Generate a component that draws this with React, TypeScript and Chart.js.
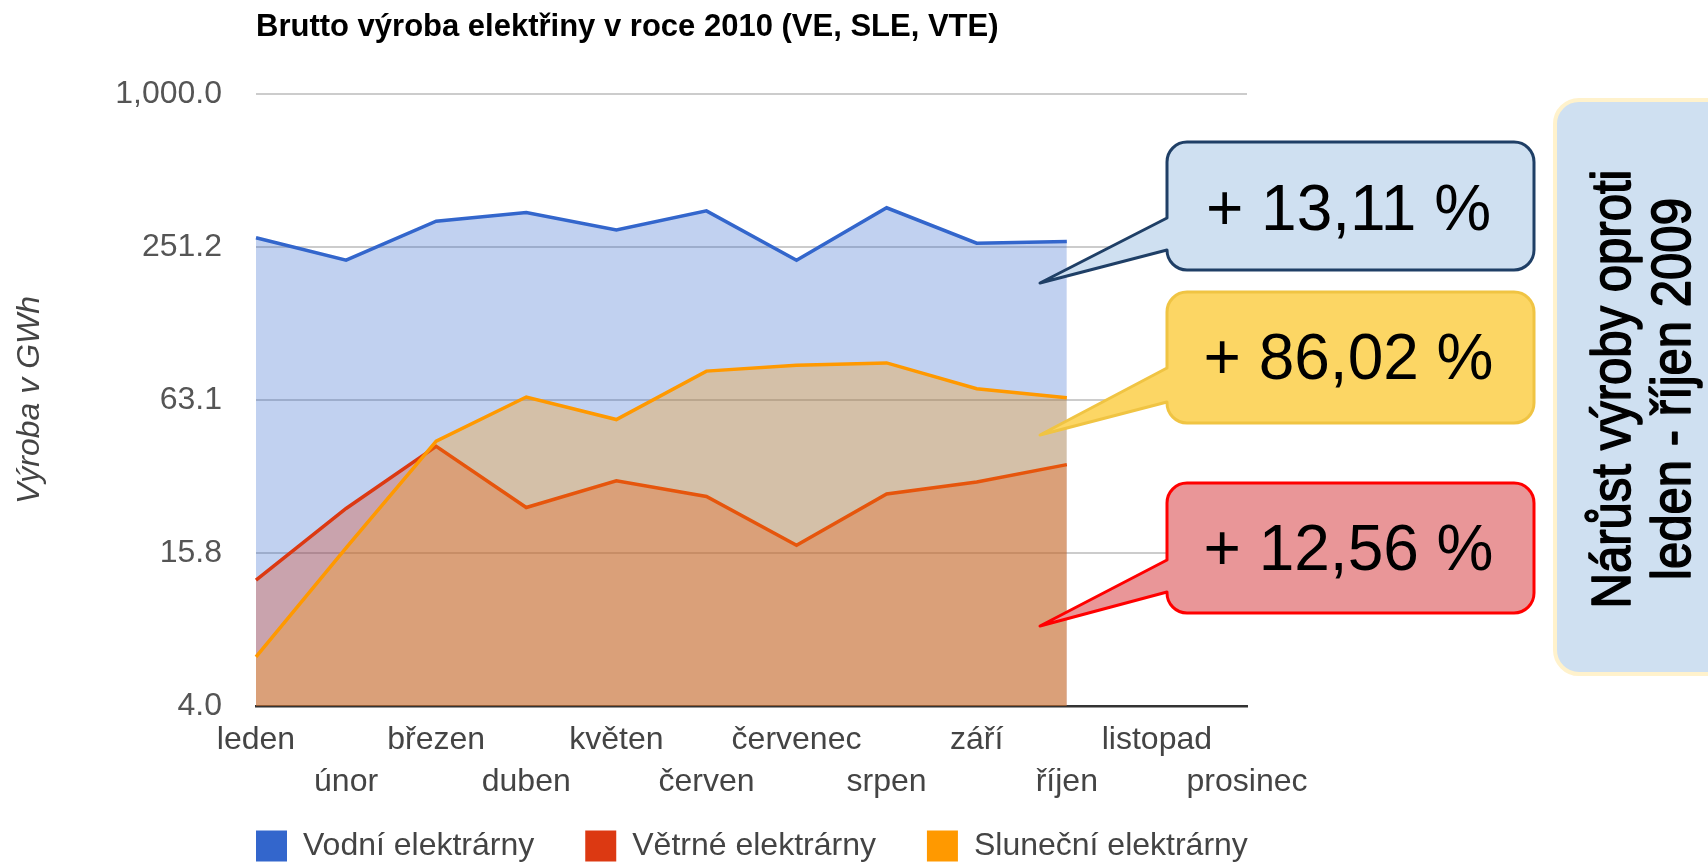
import React, { useEffect, useRef } from "react";
import { Chart, registerables } from "chart.js";

Chart.register(...registerables);

// ---------- data ----------
const months = ["leden", "únor", "březen", "duben", "květen", "červen", "červenec", "srpen", "září", "říjen", "listopad", "prosinec"];
const vodni = [273, 223, 317, 343, 293, 348, 223, 358, 260, 264, null, null];
const vetrne = [12.4, 23.7, 41.5, 23.9, 30.4, 26.4, 17.0, 27.0, 30.1, 35.2, null, null];
const slunecni = [6.2, 16.6, 43.5, 64.8, 52.9, 81.9, 86.3, 88.2, 69.9, 64.4, null, null];
const seriesNames = ["Vodní elektrárny", "Větrné elektrárny", "Sluneční elektrárny"];
const yTickValues = [3.981, 15.85, 63.1, 251.2, 1000];
const yTickLabels = ["4.0", "15.8", "63.1", "251.2", "1,000.0"];
const chartTitle = "Brutto výroba elektřiny v roce 2010 (VE, SLE, VTE)";
const yAxisTitle = "Výroba v GWh";
const calloutTexts = ["+ 13,11 %", "+ 86,02 %", "+ 12,56 %"];
const sideNote = ["Nárůst výroby oproti", "leden - říjen 2009"];

// ---------- styles ----------
const FONT = '"Liberation Sans", Arial, sans-serif';
const lineColors = ["#3366CC", "#DC3912", "#FF9900"];
const fillColors = ["rgba(51,102,204,0.3)", "rgba(220,57,18,0.3)", "rgba(255,153,0,0.3)"];
const W = 1708;
const H = 863;

type Tail = { yTop: number; yBot: number; tipX: number; tipY: number };

function calloutPath(ctx: CanvasRenderingContext2D, x0: number, y0: number, x1: number, y1: number, r: number, tail?: Tail) {
  ctx.beginPath();
  ctx.moveTo(x0 + r, y0);
  ctx.lineTo(x1 - r, y0);
  ctx.arcTo(x1, y0, x1, y0 + r, r);
  ctx.lineTo(x1, y1 - r);
  ctx.arcTo(x1, y1, x1 - r, y1, r);
  ctx.lineTo(x0 + r, y1);
  ctx.arcTo(x0, y1, x0, y1 - r, r);
  if (tail) {
    ctx.lineTo(x0, tail.yBot);
    ctx.lineTo(tail.tipX, tail.tipY);
    ctx.lineTo(x0, tail.yTop);
  }
  ctx.lineTo(x0, y0 + r);
  ctx.arcTo(x0, y0, x0 + r, y0, r);
  ctx.closePath();
}

const callouts = [
  { box: [1167, 142, 1534, 270], tail: { yTop: 218, yBot: 250, tipX: 1040, tipY: 283 }, fill: "#CFE0F1", stroke: "#1F3F66", baseline: 230 },
  { box: [1167, 292, 1534, 423], tail: { yTop: 368, yBot: 402, tipX: 1040, tipY: 435 }, fill: "#FCD664", stroke: "#F0C443", baseline: 379 },
  { box: [1167, 483, 1534, 613], tail: { yTop: 560, yBot: 592, tipX: 1040, tipY: 626 }, fill: "#E99698", stroke: "#FF0000", baseline: 570 },
];

const annotationsPlugin = {
  id: "annotations",
  afterDraw(chart: any) {
    const ctx: CanvasRenderingContext2D = chart.ctx;
    ctx.save();
    callouts.forEach((c, i) => {
      const [x0, y0, x1, y1] = c.box;
      calloutPath(ctx, x0, y0, x1, y1, 20, c.tail);
      ctx.fillStyle = c.fill;
      ctx.fill();
      ctx.lineWidth = 3;
      ctx.lineJoin = "round";
      ctx.strokeStyle = c.stroke;
      ctx.stroke();
      ctx.fillStyle = "#000";
      ctx.font = `64px ${FONT}`;
      ctx.textAlign = "center";
      ctx.textBaseline = "alphabetic";
      ctx.fillText(calloutTexts[i], (x0 + x1) / 2 - 2, c.baseline);
    });
    calloutPath(ctx, 1555, 100, 1740, 674, 24);
    ctx.fillStyle = "#CFE0F1";
    ctx.fill();
    ctx.lineWidth = 4;
    ctx.strokeStyle = "#FFF2CC";
    ctx.stroke();
    ctx.font = `56px ${FONT}`;
    ctx.fillStyle = "#000";
    ctx.strokeStyle = "#000";
    ctx.lineWidth = 1.6;
    const sx = 439 / ctx.measureText(sideNote[0]).width;
    const baselines = [1630, 1690];
    sideNote.forEach((t, i) => {
      ctx.save();
      ctx.translate(baselines[i], 389);
      ctx.rotate(-Math.PI / 2);
      ctx.scale(sx, 1);
      ctx.textAlign = "center";
      ctx.textBaseline = "alphabetic";
      ctx.fillText(t, 0, 0);
      ctx.strokeText(t, 0, 0);
      ctx.restore();
    });
    ctx.restore();
  },
};

const LEGEND_PAD = 51;
const legendPlacePlugin = {
  id: "legendPlace",
  beforeDraw(chart: any) {
    const lg = chart.legend;
    if (!lg) return;
    const left = chart.chartArea.left - LEGEND_PAD;
    const top = 846 - LEGEND_PAD - 16;
    lg.left = left;
    lg.right = left + lg.width;
    lg.top = top;
    lg.bottom = chart.height;
  },
};

export default function App() {
  const ref = useRef<HTMLCanvasElement>(null);
  useEffect(() => {
    document.body.style.margin = "0";
    Chart.defaults.font.family = FONT;
    const datasets = [vodni, vetrne, slunecni].map((d, i) => ({
      label: seriesNames[i],
      data: d,
      borderColor: lineColors[i],
      backgroundColor: fillColors[i],
      borderWidth: 3.5,
      pointRadius: 0,
      pointHoverRadius: 0,
      tension: 0,
      fill: "start",
      order: 3 - i,
    }));
    const chart = new Chart(ref.current as HTMLCanvasElement, {
      type: "line",
      data: { labels: months, datasets: datasets as any },
      plugins: [legendPlacePlugin, annotationsPlugin],
      options: {
        responsive: false,
        animation: false,
        devicePixelRatio: 1,
        layout: { padding: { left: 0, right: 461, top: 0, bottom: 0 } },
        plugins: {
          tooltip: { enabled: false },
          title: {
            display: true,
            text: chartTitle,
            align: "start",
            fullSize: false,
            color: "#000",
            font: { size: 31, weight: "bold", family: FONT },
            padding: { top: 8.4, bottom: 48.4 },
          },
          legend: {
            display: true,
            position: "bottom",
            align: "start",
            fullSize: true,
            maxHeight: 57,
            labels: {
              font: { size: 32, family: FONT },
              color: "#444",
              boxWidth: 31,
              boxHeight: 31,
              padding: LEGEND_PAD,
              sort: (a: any, b: any) => a.datasetIndex - b.datasetIndex,
              generateLabels: (ch: any) => {
                const items = (Chart.defaults.plugins.legend.labels as any).generateLabels(ch);
                return items.map((it: any) => ({
                  ...it,
                  fillStyle: lineColors[it.datasetIndex],
                  strokeStyle: lineColors[it.datasetIndex],
                  lineWidth: 0,
                }));
              },
            },
          },
        },
        scales: {
          x: {
            type: "category",
            offset: false,
            grid: { display: false, drawTicks: false },
            border: { display: true, color: "#333", width: 2.5 },
            ticks: {
              autoSkip: false,
              maxRotation: 0,
              minRotation: 0,
              padding: 12.4,
              color: "#444",
              font: { size: 32, family: FONT, lineHeight: 1.33 },
              callback: (_v: any, idx: number) => (idx % 2 === 0 ? [months[idx]] : ["", months[idx]]),
            },
            afterFit: (scale: any) => {
              scale.height = 100;
            },
          },
          y: {
            type: "logarithmic",
            min: yTickValues[0],
            max: yTickValues[yTickValues.length - 1],
            grid: { color: "#cccccc", lineWidth: 2, drawTicks: false },
            border: { display: false },
            afterBuildTicks: (scale: any) => {
              scale.ticks = yTickValues.map((v) => ({ value: v }));
            },
            ticks: {
              padding: 34,
              color: "#555",
              font: { size: 32, family: FONT },
              callback: (_v: any, idx: number) => yTickLabels[idx],
            },
            title: {
              display: true,
              text: yAxisTitle,
              color: "#444",
              font: { size: 32, style: "italic", family: FONT },
              padding: { top: 11, bottom: 0 },
            },
            afterFit: (scale: any) => {
              scale.width = 256;
            },
          },
        },
      } as any,
    });
    return () => chart.destroy();
  }, []);
  return (
    <div style={{ position: "fixed", left: 0, top: 0, width: W, height: H, background: "#fff" }}>
      <canvas ref={ref} width={W} height={H} style={{ display: "block", width: W, height: H }} />
    </div>
  );
}
